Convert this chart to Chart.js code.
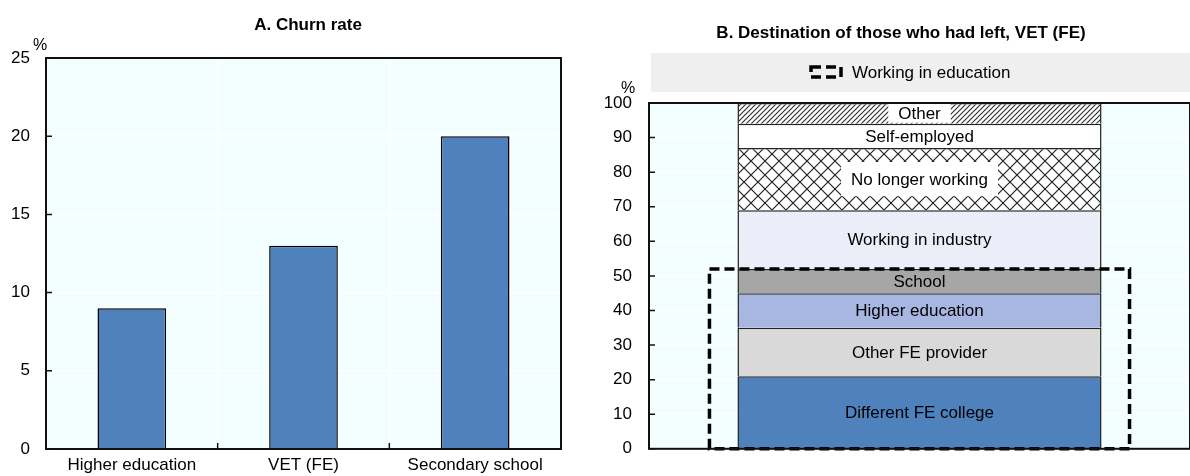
<!DOCTYPE html>
<html>
<head>
<meta charset="utf-8">
<script src="https://cdn.jsdelivr.net/npm/chart.js@4/dist/chart.umd.min.js"></script>
<style>
  html, body { margin: 0; padding: 0; background: #fff; }
  #wrap { position: relative; width: 1190px; height: 476px; overflow: hidden; }
  .panel { position: absolute; top: 0; height: 476px; }
  #panelA { left: 0; width: 590px; }
  #panelB { left: 590px; width: 600px; }
</style>
</head>
<body>
<div id="wrap">
  <div class="panel" id="panelA"><canvas id="chartChurn"></canvas></div>
  <div class="panel" id="panelB"><canvas id="chartDestination"></canvas></div>
</div>
<script>
// ---- data ----
var churnCategories = ['Higher education', 'VET (FE)', 'Secondary school'];
var churnRates = [9, 13, 20];
var churnTicks = [0, 5, 10, 15, 20, 25];

var destinationCategory = ['VET (FE)'];
var destinationLabels = ['Different FE college', 'Other FE provider', 'Higher education', 'School',
    'Working in industry', 'No longer working', 'Self-employed', 'Other'];
var destinationShares = [21, 14, 10, 7, 17, 18, 7, 6];
var destinationTicks = [0, 10, 20, 30, 40, 50, 60, 70, 80, 90, 100];

// segments grouped inside the dashed box
var educationGroup = ['Different FE college', 'Other FE provider', 'Higher education', 'School'];
var groupLegend = ['Working in education'];

// ---- styles ----
var FONT = "'Liberation Sans', Arial, sans-serif";
var PLOT_BG = '#f3feff';
var BLUE = '#4f81bd';

function hatchPattern() {
    var c = document.createElement('canvas');
    c.width = 5; c.height = 5;
    var g = c.getContext('2d');
    g.fillStyle = '#fff';
    g.fillRect(0, 0, 5, 5);
    g.strokeStyle = '#333';
    g.lineWidth = 1.2;
    g.beginPath();
    g.moveTo(-1, 6); g.lineTo(6, -1);
    g.moveTo(-1, 1); g.lineTo(1, -1);
    g.moveTo(4, 6); g.lineTo(6, 4);
    g.stroke();
    return g.createPattern(c, 'repeat');
}

function crossPattern() {
    var c = document.createElement('canvas');
    c.width = 14; c.height = 14;
    var g = c.getContext('2d');
    g.fillStyle = '#fff';
    g.fillRect(0, 0, 14, 14);
    g.strokeStyle = '#222';
    g.lineWidth = 1.2;
    g.beginPath();
    g.moveTo(0, 0); g.lineTo(14, 14);
    g.moveTo(0, 14); g.lineTo(14, 0);
    g.stroke();
    return g.createPattern(c, 'repeat');
}

var segmentStyle = {
    'Different FE college': { fill: BLUE },
    'Other FE provider': { fill: '#d9d9d9' },
    'Higher education': { fill: '#a7b7e1' },
    'School': { fill: '#a6a6a6' },
    'Working in industry': { fill: '#ebeef8' },
    'No longer working': { fill: crossPattern(), box: true, padX: 10, padY: 14 },
    'Self-employed': { fill: '#ffffff' },
    'Other': { fill: hatchPattern(), box: true, padX: 10, padY: 1 }
};

// ---- plugins ----
var plotBackground = {
    id: 'plotBackground',
    beforeDraw: function (chart) {
        var a = chart.chartArea, ctx = chart.ctx;
        ctx.save();
        ctx.fillStyle = PLOT_BG;
        ctx.fillRect(a.left, a.top, a.right - a.left, a.bottom - a.top);
        ctx.restore();
    }
};

var frameAndTicks = {
    id: 'frameAndTicks',
    afterDraw: function (chart, args, opts) {
        var a = chart.chartArea, ctx = chart.ctx;
        var ys = chart.scales.y, xs = chart.scales.x;
        ctx.save();
        ctx.strokeStyle = '#111';
        ctx.lineWidth = 2;
        ctx.strokeRect(a.left, a.top, a.right - a.left, a.bottom - a.top);
        ctx.lineWidth = 1.5;
        ctx.beginPath();
        ys.ticks.forEach(function (t) {
            var py = ys.getPixelForValue(t.value);
            ctx.moveTo(a.left, py);
            ctx.lineTo(a.left + 6, py);
        });
        if (opts.xBoundaries) {
            for (var i = 1; i < xs.ticks.length; i++) {
                var px = (xs.getPixelForValue(i - 1) + xs.getPixelForValue(i)) / 2;
                ctx.moveTo(px, a.bottom);
                ctx.lineTo(px, a.bottom - 6);
            }
        }
        ctx.stroke();

        // unit label and panel title
        ctx.fillStyle = '#000';
        ctx.font = '16px ' + FONT;
        ctx.textAlign = 'center';
        ctx.textBaseline = 'middle';
        ctx.fillText('%', a.left + opts.unitDx, a.top + opts.unitDy);
        ctx.font = 'bold 17px ' + FONT;
        ctx.fillText(opts.title, opts.titleX, opts.titleY);
        ctx.restore();
    }
};

function educationTop() {
    var total = 0;
    destinationLabels.forEach(function (l, i) {
        if (educationGroup.indexOf(l) >= 0) total += destinationShares[i];
    });
    return total;
}

function dashedRect(ctx, x, y, w, h) {
    ctx.save();
    ctx.strokeStyle = '#000';
    ctx.lineWidth = 3.5;
    ctx.setLineDash([10, 5]);
    ctx.strokeRect(x, y, w, h);
    ctx.restore();
}

var segmentLabels = {
    id: 'segmentLabels',
    afterDatasetsDraw: function (chart) {
        var ctx = chart.ctx, ys = chart.scales.y;
        ctx.save();
        ctx.font = '17px ' + FONT;
        ctx.textAlign = 'center';
        ctx.textBaseline = 'middle';
        chart.data.datasets.forEach(function (ds, i) {
            var el = chart.getDatasetMeta(i).data[0];
            var st = segmentStyle[ds.label];
            var cy = (el.y + el.base) / 2;
            if (st.box) {
                var w = ctx.measureText(ds.label).width + st.padX * 2;
                var h = Math.abs(el.base - el.y) - st.padY * 2;
                ctx.fillStyle = '#fff';
                ctx.fillRect(el.x - w / 2, cy - h / 2, w, h);
            }
            ctx.fillStyle = '#000';
            ctx.fillText(ds.label, el.x, cy + 1);
        });

        // dashed box round the education destinations
        var bar = chart.getDatasetMeta(0).data[0];
        var top = ys.getPixelForValue(educationTop());
        var bottom = ys.getPixelForValue(0);
        var left = bar.x - bar.width / 2 - 28;
        dashedRect(ctx, left, top, bar.width + 56, bottom - top);

        // legend strip
        var a = chart.chartArea;
        ctx.fillStyle = '#efefef';
        ctx.fillRect(a.left + 2, 53, a.right - a.left - 2, 39);
        dashedRect(ctx, a.left + 162, 67, 30, 10);
        ctx.fillStyle = '#000';
        ctx.font = '17px ' + FONT;
        ctx.textAlign = 'left';
        ctx.fillText(groupLegend[0], a.left + 203, 73);
        ctx.restore();
    }
};

// ---- charts ----
Chart.defaults.font.family = FONT;
Chart.defaults.font.size = 17;
Chart.defaults.color = '#000';
Chart.defaults.animation = false;

new Chart(document.getElementById('chartChurn'), {
    type: 'bar',
    data: {
        labels: churnCategories,
        datasets: [{
            data: churnRates,
            backgroundColor: BLUE,
            borderColor: '#000',
            borderWidth: 1.5,
            barPercentage: 0.4,
            categoryPercentage: 1
        }]
    },
    plugins: [plotBackground, frameAndTicks],
    options: {
        responsive: true,
        maintainAspectRatio: false,
        layout: { padding: { left: 0, right: 29, top: 58, bottom: 0 } },
        plugins: {
            legend: { display: false },
            tooltip: { enabled: false },
            frameAndTicks: {
                xBoundaries: true, unitDx: -6, unitDy: -12,
                title: 'A. Churn rate', titleX: 308, titleY: 25
            }
        },
        scales: {
            x: {
                grid: { color: '#ffffff', lineWidth: 1.5, drawTicks: false, offset: true },
                border: { display: false },
                ticks: { padding: 6 },
                afterFit: function (s) { s.height = 27; }
            },
            y: {
                min: 0, max: 25,
                afterBuildTicks: function (s) {
                    s.ticks = churnTicks.map(function (v) { return { value: v }; });
                },
                grid: { color: '#ffffff', lineWidth: 1.5, drawTicks: false },
                border: { display: false },
                ticks: { padding: 16 },
                afterFit: function (s) { s.width = 46; }
            }
        }
    }
});

new Chart(document.getElementById('chartDestination'), {
    type: 'bar',
    data: {
        labels: destinationCategory,
        datasets: destinationLabels.map(function (label, i) {
            return {
                label: label,
                data: [destinationShares[i]],
                backgroundColor: segmentStyle[label].fill,
                borderColor: '#222',
                borderWidth: 1.5,
                barPercentage: 0.673,
                categoryPercentage: 1
            };
        })
    },
    plugins: [plotBackground, segmentLabels, frameAndTicks],
    options: {
        responsive: true,
        maintainAspectRatio: false,
        layout: { padding: { left: 0, right: 0, top: 103, bottom: 0 } },
        plugins: {
            legend: { display: false },
            tooltip: { enabled: false },
            frameAndTicks: {
                xBoundaries: false, unitDx: -21, unitDy: -14,
                title: 'B. Destination of those who had left, VET (FE)', titleX: 311, titleY: 33
            }
        },
        scales: {
            x: {
                stacked: true,
                grid: { display: false },
                border: { display: false },
                ticks: { display: false },
                afterFit: function (s) { s.height = 27; }
            },
            y: {
                stacked: true,
                min: 0, max: 100,
                afterBuildTicks: function (s) {
                    s.ticks = destinationTicks.map(function (v) { return { value: v }; });
                },
                grid: { color: '#ffffff', lineWidth: 1.5, drawTicks: false },
                border: { display: false },
                ticks: { padding: 17 },
                afterFit: function (s) { s.width = 59; }
            }
        }
    }
});
</script>
</body>
</html>
